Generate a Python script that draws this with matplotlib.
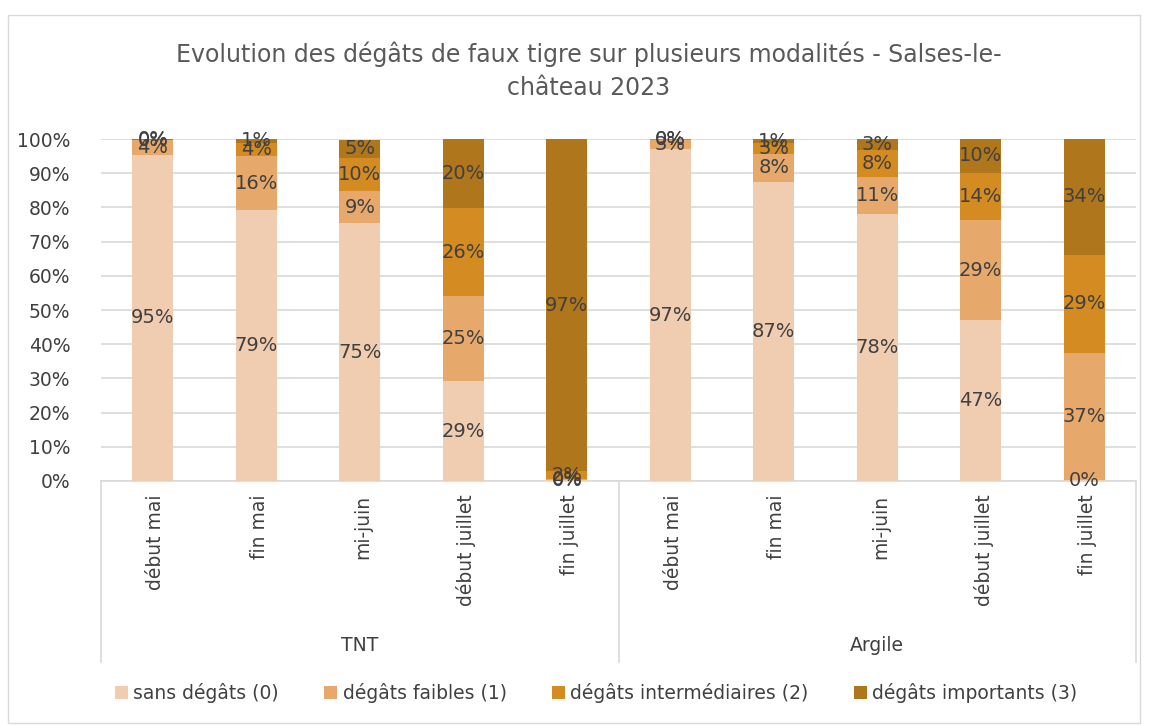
import matplotlib
matplotlib.use("Agg")
import matplotlib.pyplot as plt
import numpy as np

plt.rcParams['font.family'] = ['DejaVu Sans']

# data
groups = ["TNT", "Argile"]
periods = ["début mai", "fin mai", "mi-juin", "début juillet", "fin juillet"]
series = ["sans dégâts (0)", "dégâts faibles (1)", "dégâts intermédiaires (2)", "dégâts importants (3)"]
colors = ["#F0CDB0", "#E6A96B", "#D48B22", "#B0761C"]

sans = [95.4, 79.2, 75.4, 29.2, 0.2, 97.0, 87.4, 78.0, 47.0, 0.2]
faibles = [4.2, 15.8, 9.3, 24.8, 0.3, 2.8, 8.3, 11.0, 29.2, 37.2]
interm = [0.2, 3.9, 9.8, 25.8, 2.3, 0.1, 3.1, 7.8, 14.0, 28.8]
importants = [0.2, 1.1, 5.3, 20.2, 97.2, 0.1, 1.2, 3.2, 9.8, 33.8]
values = [sans, faibles, interm, importants]

W, H = 1149, 725
TXT = "#404040"
GRID = "#D9D9D9"
fig = plt.figure(figsize=(W / 100, H / 100), dpi=100)
ax = fig.add_axes([101 / W, 1 - 481 / H, (1136 - 101) / W, (481 - 139) / H])

# chart frame
fig.patches.append(plt.Rectangle((8 / W, 2 / H), 1132 / W, 708 / H, transform=fig.transFigure,
                                 fill=False, edgecolor=GRID, linewidth=1))

x = np.arange(len(sans))
bottom = np.zeros(len(sans))
for vals, col, name in zip(values, colors, series):
    vals = np.array(vals)
    ax.bar(x, vals, 0.4, bottom=bottom, color=col, label=name, zorder=3)
    for xi, b, v in zip(x, bottom, vals):
        ax.text(xi, b + v / 2, f"{v:.0f}%", ha="center", va="center",
                fontsize=14, color=TXT, zorder=4)
    bottom += vals

ax.set_xlim(-0.5, len(sans) - 0.5)
ax.set_ylim(0, 100)
ax.set_yticks(np.arange(0, 101, 10))
ax.set_yticklabels([f"{t}%" for t in range(0, 101, 10)], fontsize=13.5, color=TXT)
ax.yaxis.grid(True, color=GRID, linewidth=1.2, zorder=0)
ax.set_xticks([])
for s in ["top", "right", "left"]:
    ax.spines[s].set_visible(False)
ax.spines["bottom"].set_color(GRID)
ax.spines["bottom"].set_linewidth(1.2)
ax.tick_params(axis="y", length=0, pad=22)

# category labels (rotated) and group labels
for xi in x:
    ax.text(xi + 0.03, -4, periods[xi % 5], rotation=90, ha="center", va="top",
            fontsize=13.5, color=TXT, clip_on=False)
for gi, g in enumerate(groups):
    ax.text(gi * 5 + 2, -48, g, ha="center", va="center", fontsize=13.5,
            color=TXT, clip_on=False)
for xs in [-0.5, 4.5, 9.5]:
    ax.plot([xs, xs], [0, -53], color=GRID, linewidth=1.2, clip_on=False)

fig.text(589 / W, 1 - 71 / H, "Evolution des dégâts de faux tigre sur plusieurs modalités - Salses-le-\nchâteau 2023",
         ha="center", va="center", fontsize=17, color="#595959", linespacing=1.45)

fig.legend(loc="center", bbox_to_anchor=(596 / W, 1 - 693 / H), ncol=4, frameon=False,
           fontsize=13.5, handlelength=0.7, handleheight=0.7, handletextpad=0.3,
           columnspacing=2.4, labelcolor=TXT)

fig.savefig("out.png", dpi=100)
